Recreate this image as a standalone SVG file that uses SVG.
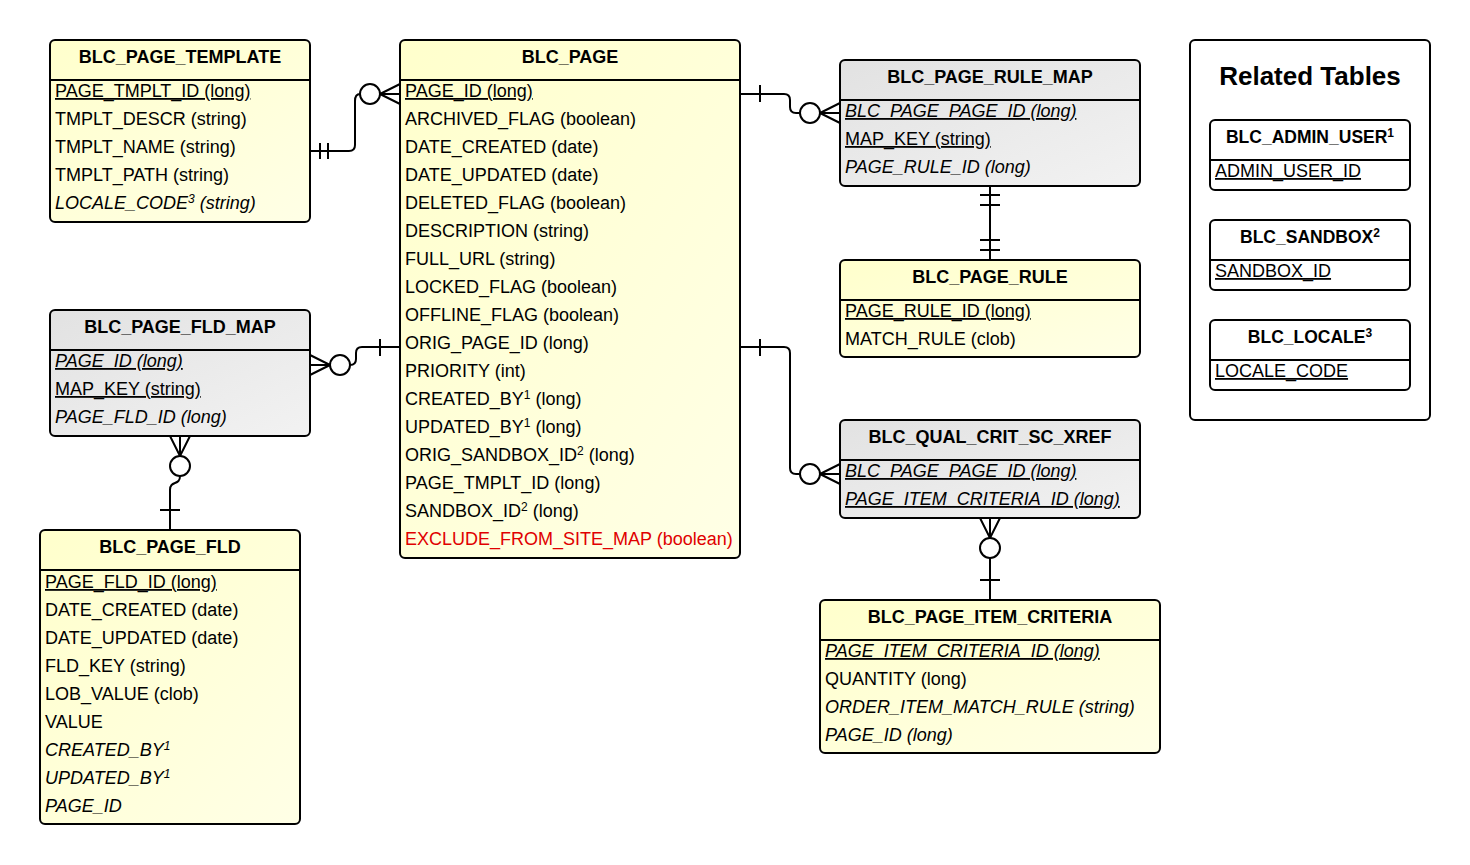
<svg xmlns="http://www.w3.org/2000/svg" width="1470" height="865" viewBox="0 0 1470 865">
<defs>
<linearGradient id="gy" x1="0" y1="0" x2="1" y2="1"><stop offset="0" stop-color="#FFFFCC"/><stop offset="1" stop-color="#FFFFE6"/></linearGradient>
<linearGradient id="gg" x1="0" y1="0" x2="1" y2="1"><stop offset="0" stop-color="#E2E2E2"/><stop offset="1" stop-color="#F2F2F2"/></linearGradient>
<style>
.box{stroke:#000;stroke-width:2}
.y{fill:url(#gy)}
.g{fill:url(#gg)}
.w{fill:#fff}
.hl{stroke:#000;stroke-width:2}
text{font-family:"Liberation Sans",Arial,sans-serif;fill:#000}
.h{font-size:18px;font-weight:bold;text-anchor:middle}
.hs{font-size:17.5px}
.r{font-size:18px}
.i{font-style:italic}
.u{text-decoration:underline}
.red{fill:#E00000}
.sup{font-size:12px}
.t{font-size:26px;font-weight:bold;text-anchor:middle}
.c{fill:none;stroke:#000;stroke-width:2}
.o{fill:#fff;stroke:#000;stroke-width:2}
</style>
</defs>
<rect width="1470" height="865" fill="#fff"/>

<g id="connectors">
<path class="c" d="M310,151 H349 Q355,151 355,145 V101 Q355,94 360,94"/>
<circle class="o" cx="370" cy="94" r="10"/>
<path class="c" d="M380,94 L400,84 M380,94 L400,94 M380,94 L400,104 M320,143 V159 M328,143 V159"/>

<path class="c" d="M740,94 H784 Q790,94 790,100 V107 Q790,113 796,113 H800"/>
<circle class="o" cx="810" cy="113" r="10"/>
<path class="c" d="M820,113 L840,103 M820,113 L840,113 M820,113 L840,123 M760,85 V102"/>

<path class="c" d="M990,186 V260 M980,195 H1000 M980,205 H1000 M980,240 H1000 M980,250 H1000"/>

<path class="c" d="M740,347 H784 Q790,347 790,353 V468 Q790,474 796,474 H800"/>
<circle class="o" cx="810" cy="474" r="10"/>
<path class="c" d="M820,474 L840,464 M820,474 L840,474 M820,474 L840,484 M760,339 V356"/>

<path class="c" d="M980,518 L990,538 L1000,518 M990,518 V538 M990,558 V600 M980,580 H1000"/>
<circle class="o" cx="990" cy="548" r="10"/>

<path class="c" d="M400,347 H362 Q356,347 356,353 V359 Q356,365 350,365"/>
<circle class="o" cx="340" cy="365" r="10"/>
<path class="c" d="M330,365 L310,355 M330,365 L310,365 M330,365 L310,375 M380,339 V356"/>

<path class="c" d="M170,436 L180,456 L190,436 M180,436 V456 M180,476 C180,486 170,480 170,490 V530 M160,510 H180"/>
<circle class="o" cx="180" cy="466" r="10"/>
</g>

<g id="blc_page_template">
<rect class="box y" x="50" y="40" width="260" height="182" rx="5"/>
<line class="hl" x1="50" y1="80" x2="310" y2="80"/>
<text class="h" x="180" y="63">BLC_PAGE_TEMPLATE</text>
<text class="r u" x="55" y="97">PAGE_TMPLT_ID (long)</text>
<text class="r" x="55" y="125">TMPLT_DESCR (string)</text>
<text class="r" x="55" y="153">TMPLT_NAME (string)</text>
<text class="r" x="55" y="181">TMPLT_PATH (string)</text>
<text class="r i" x="55" y="209">LOCALE_CODE<tspan class="sup" dy="-6">3</tspan><tspan dy="6"> (string)</tspan></text>
</g>

<g id="blc_page">
<rect class="box y" x="400" y="40" width="340" height="518" rx="5"/>
<line class="hl" x1="400" y1="80" x2="740" y2="80"/>
<text class="h" x="570" y="63">BLC_PAGE</text>
<text class="r u" x="405" y="97">PAGE_ID (long)</text>
<text class="r" x="405" y="125">ARCHIVED_FLAG (boolean)</text>
<text class="r" x="405" y="153">DATE_CREATED (date)</text>
<text class="r" x="405" y="181">DATE_UPDATED (date)</text>
<text class="r" x="405" y="209">DELETED_FLAG (boolean)</text>
<text class="r" x="405" y="237">DESCRIPTION (string)</text>
<text class="r" x="405" y="265">FULL_URL (string)</text>
<text class="r" x="405" y="293">LOCKED_FLAG (boolean)</text>
<text class="r" x="405" y="321">OFFLINE_FLAG (boolean)</text>
<text class="r" x="405" y="349">ORIG_PAGE_ID (long)</text>
<text class="r" x="405" y="377">PRIORITY (int)</text>
<text class="r" x="405" y="405">CREATED_BY<tspan class="sup" dy="-6">1</tspan><tspan dy="6"> (long)</tspan></text>
<text class="r" x="405" y="433">UPDATED_BY<tspan class="sup" dy="-6">1</tspan><tspan dy="6"> (long)</tspan></text>
<text class="r" x="405" y="461">ORIG_SANDBOX_ID<tspan class="sup" dy="-6">2</tspan><tspan dy="6"> (long)</tspan></text>
<text class="r" x="405" y="489">PAGE_TMPLT_ID (long)</text>
<text class="r" x="405" y="517">SANDBOX_ID<tspan class="sup" dy="-6">2</tspan><tspan dy="6"> (long)</tspan></text>
<text class="r red" x="405" y="545">EXCLUDE_FROM_SITE_MAP (boolean)</text>
</g>

<g id="blc_page_rule_map">
<rect class="box g" x="840" y="60" width="300" height="126" rx="5"/>
<line class="hl" x1="840" y1="100" x2="1140" y2="100"/>
<text class="h" x="990" y="83">BLC_PAGE_RULE_MAP</text>
<text class="r i u" x="845" y="117">BLC_PAGE_PAGE_ID (long)</text>
<text class="r u" x="845" y="145">MAP_KEY (string)</text>
<text class="r i" x="845" y="173">PAGE_RULE_ID (long)</text>
</g>

<g id="blc_page_rule">
<rect class="box y" x="840" y="260" width="300" height="97" rx="5"/>
<line class="hl" x1="840" y1="300" x2="1140" y2="300"/>
<text class="h" x="990" y="283">BLC_PAGE_RULE</text>
<text class="r u" x="845" y="317">PAGE_RULE_ID (long)</text>
<text class="r" x="845" y="345">MATCH_RULE (clob)</text>
</g>

<g id="blc_page_fld_map">
<rect class="box g" x="50" y="310" width="260" height="126" rx="5"/>
<line class="hl" x1="50" y1="350" x2="310" y2="350"/>
<text class="h" x="180" y="333">BLC_PAGE_FLD_MAP</text>
<text class="r i u" x="55" y="367">PAGE_ID (long)</text>
<text class="r u" x="55" y="395">MAP_KEY (string)</text>
<text class="r i" x="55" y="423">PAGE_FLD_ID (long)</text>
</g>

<g id="blc_qual_crit_sc_xref">
<rect class="box g" x="840" y="420" width="300" height="98" rx="5"/>
<line class="hl" x1="840" y1="460" x2="1140" y2="460"/>
<text class="h" x="990" y="443">BLC_QUAL_CRIT_SC_XREF</text>
<text class="r i u" x="845" y="477">BLC_PAGE_PAGE_ID (long)</text>
<text class="r i u" x="845" y="505">PAGE_ITEM_CRITERIA_ID (long)</text>
</g>

<g id="blc_page_item_criteria">
<rect class="box y" x="820" y="600" width="340" height="153" rx="5"/>
<line class="hl" x1="820" y1="640" x2="1160" y2="640"/>
<text class="h" x="990" y="623">BLC_PAGE_ITEM_CRITERIA</text>
<text class="r i u" x="825" y="657">PAGE_ITEM_CRITERIA_ID (long)</text>
<text class="r" x="825" y="685">QUANTITY (long)</text>
<text class="r i" x="825" y="713">ORDER_ITEM_MATCH_RULE (string)</text>
<text class="r i" x="825" y="741">PAGE_ID (long)</text>
</g>

<g id="blc_page_fld">
<rect class="box y" x="40" y="530" width="260" height="294" rx="5"/>
<line class="hl" x1="40" y1="570" x2="300" y2="570"/>
<text class="h" x="170" y="553">BLC_PAGE_FLD</text>
<text class="r u" x="45" y="588">PAGE_FLD_ID (long)</text>
<text class="r" x="45" y="616">DATE_CREATED (date)</text>
<text class="r" x="45" y="644">DATE_UPDATED (date)</text>
<text class="r" x="45" y="672">FLD_KEY (string)</text>
<text class="r" x="45" y="700">LOB_VALUE (clob)</text>
<text class="r" x="45" y="728">VALUE</text>
<text class="r i" x="45" y="756">CREATED_BY<tspan class="sup" dy="-6">1</tspan></text>
<text class="r i" x="45" y="784">UPDATED_BY<tspan class="sup" dy="-6">1</tspan></text>
<text class="r i" x="45" y="812">PAGE_ID</text>
</g>

<g id="related_tables">
<rect class="box w" x="1190" y="40" width="240" height="380" rx="5"/>
<text class="t" x="1310" y="85">Related Tables</text>
<g id="blc_admin_user">
<rect class="box w" x="1210" y="120" width="200" height="70" rx="5"/>
<line class="hl" x1="1210" y1="160" x2="1410" y2="160"/>
<text class="h hs" x="1310" y="143">BLC_ADMIN_USER<tspan class="sup" dy="-6">1</tspan></text>
<text class="r u" x="1215" y="177">ADMIN_USER_ID</text>
</g>
<g id="blc_sandbox">
<rect class="box w" x="1210" y="220" width="200" height="70" rx="5"/>
<line class="hl" x1="1210" y1="260" x2="1410" y2="260"/>
<text class="h hs" x="1310" y="243">BLC_SANDBOX<tspan class="sup" dy="-6">2</tspan></text>
<text class="r u" x="1215" y="277">SANDBOX_ID</text>
</g>
<g id="blc_locale">
<rect class="box w" x="1210" y="320" width="200" height="70" rx="5"/>
<line class="hl" x1="1210" y1="360" x2="1410" y2="360"/>
<text class="h hs" x="1310" y="343">BLC_LOCALE<tspan class="sup" dy="-6">3</tspan></text>
<text class="r u" x="1215" y="377">LOCALE_CODE</text>
</g>
</g>
</svg>
